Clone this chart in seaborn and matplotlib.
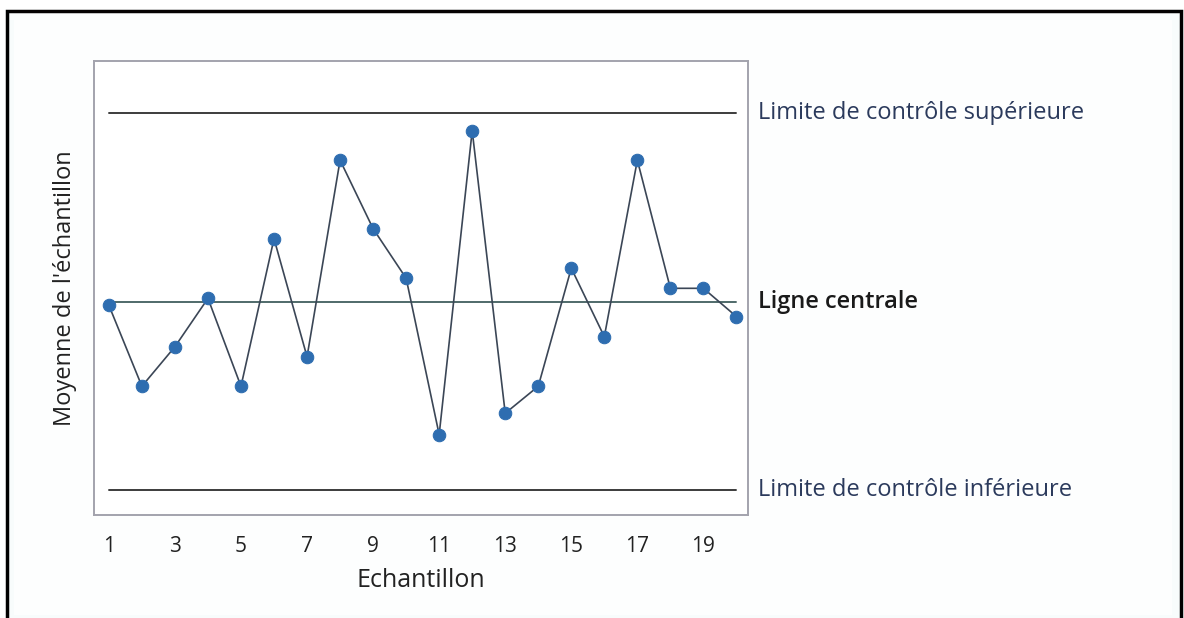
import matplotlib
matplotlib.use("Agg")
import matplotlib.pyplot as plt
import seaborn as sns
import pandas as pd
from matplotlib.patches import Rectangle

# Data (in sigma units relative to the central line)
samples = list(range(1, 21))
means = [-0.06, -1.35, -0.72, 0.05, -1.35, 1.00, -0.88, 2.25, 1.16, 0.37,
         -2.12, 2.72, -1.78, -1.35, 0.53, -0.56, 2.25, 0.21, 0.21, -0.24]
limit_values = [3.0, 0.0, -3.0]
limit_labels = ["Limite de contrôle supérieure", "Ligne centrale", "Limite de contrôle inférieure"]
xtick_values = [1, 3, 5, 7, 9, 11, 13, 15, 17, 19]

sns.set_theme(style="white")
plt.rcParams['font.family'] = ['Open Sans', 'DejaVu Sans']

fig = plt.figure(figsize=(11.84, 6.18), dpi=100, facecolor="white")
W, H = 1184, 618

# outer frame
fig.patches.append(Rectangle((7 / W, -0.05), (1181 - 7) / W, (618 - 11) / H + 0.05,
                             transform=fig.transFigure, fill=True, facecolor="#f8fcfc",
                             edgecolor="black", linewidth=2.5, zorder=-2))
fig.patches.append(Rectangle((14 / W, 0.005), (1172 - 14) / W, (612 - 17) / H,
                             transform=fig.transFigure, fill=True, facecolor="#fdfefe",
                             edgecolor="none", zorder=-1))

ax = fig.add_axes([94 / W, 1 - 515 / H, (748 - 94) / W, (515 - 61) / H])
ax.set_zorder(3)
ax.set_facecolor("white")

df = pd.DataFrame({"Echantillon": samples, "Moyenne": means})

# control lines
line_colors = ["#3c3c3c", "#4f6a6a", "#3c3c3c"]
for val, col in zip(limit_values, line_colors):
    ax.plot([samples[0], samples[-1]], [val, val], color=col, linewidth=1.4, zorder=1)

sns.lineplot(data=df, x="Echantillon", y="Moyenne", ax=ax, color="#3b4656",
             linewidth=1.2, marker="o", markersize=9, markerfacecolor="#2e6db0",
             markeredgecolor="#2e6db0", zorder=3)

ax.set_xlim(0.55, 20.35)
ax.set_ylim(-3.4, 3.83)
ax.set_xticks(xtick_values)
ax.set_xticklabels([str(v) for v in xtick_values], fontsize=15, color="#222222")
ax.set_yticks([])
ax.tick_params(axis="x", length=3, color="#aaaaaa", pad=12)
for s in ax.spines.values():
    s.set_color("#a3a3ad")
    s.set_linewidth(1.4)

ax.set_xlabel("Echantillon", fontsize=18, color="#222222", labelpad=8)
ax.set_ylabel("Moyenne de l'échantillon", fontsize=17, color="#222222", labelpad=12)

label_colors = ["#2b3a5c", "#1a1a1a", "#2b3a5c"]
label_weights = ["normal", "semibold", "normal"]
for val, lab, col, wt in zip(limit_values, limit_labels, label_colors, label_weights):
    ax.annotate(lab, xy=(1.0, val), xycoords=("axes fraction", "data"),
                xytext=(7, 0), textcoords="offset points", va="center", ha="left",
                fontsize=17, color=col, fontweight=wt, annotation_clip=False)

fig.savefig("out.png", dpi=100, facecolor=fig.get_facecolor())
